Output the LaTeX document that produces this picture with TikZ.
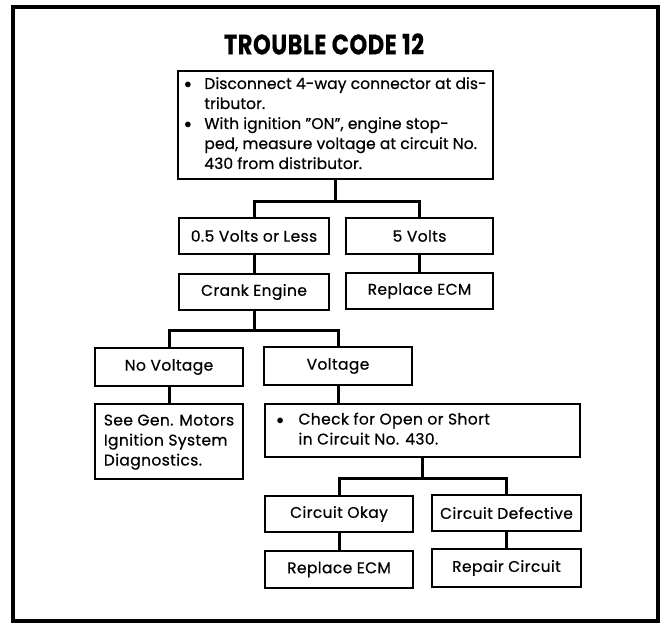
\documentclass[tikz,border=0pt]{standalone}
\usepackage{fontspec}
\setmainfont{Poppins}[LetterSpace=2.5,FakeBold=0.6]
\usepackage{graphicx}
\newcommand{\blt}{$\bullet$}
\begin{document}
\begin{tikzpicture}[x=1pt,y=-1pt,
    box/.style={draw,line width=2.2pt,inner sep=0pt,align=center,font=\fontsize{15.5}{20}\selectfont},
    link/.style={line width=3pt}]
    \useasboundingbox (0,0) rectangle (666,623);
    \draw[line width=4pt] (13,7) rectangle (658,621);
    \node (title) at (324,44) {\resizebox{200pt}{21pt}{\bfseries TROUBLE CODE 12}};
    % first test
    \node[box,minimum width=315pt,minimum height=108pt] (top) at (335.5,125)
      {\addfontfeatures{LetterSpace=0.5}%
       \begin{tabular}{@{}p{20pt}@{}l@{}}
        \blt & Disconnect 4-way connector at dis-\\
             & tributor.\\
        \blt & With ignition "ON", engine stop-\\
             & ped, measure voltage at circuit No.\\
             & 430 from distributor.
       \end{tabular}};
    \node[box,minimum width=150pt,minimum height=36pt] (v05) at (254,236) {0.5 Volts or Less};
    \node[box,minimum width=147pt,minimum height=36pt] (v5) at (419.5,236) {5 Volts};
    \node[box,minimum width=150pt,minimum height=36pt] (crank) at (254,292) {Crank Engine};
    \node[box,minimum width=147pt,minimum height=36pt] (ecm1) at (419.5,291) {Replace ECM};
    % second test
    \node[box,minimum width=148pt,minimum height=38pt] (nov) at (169,367) {No Voltage};
    \node[box,minimum width=148pt,minimum height=38pt] (volt) at (338,366) {Voltage};
    \node[box,minimum width=148pt,minimum height=75pt] (gm) at (169,441.5)
      {\begin{tabular}{@{}l@{}}
        See Gen. Motors\\
        Ignition System\\
        Diagnostics.
       \end{tabular}};
    \node[box,minimum width=315pt,minimum height=53pt] (chk) at (422.5,430.5)
      {\begin{tabular}{@{}p{22pt}@{}p{270pt}@{}}
        \blt & Check for Open or Short\\
             & in Circuit No. 430.
       \end{tabular}};
    % circuit check
    \node[box,minimum width=148pt,minimum height=36pt] (okay) at (339,514) {Circuit Okay};
    \node[box,minimum width=149pt,minimum height=36pt] (defect) at (506.5,513) {Circuit Defective};
    \node[box,minimum width=148pt,minimum height=37pt] (ecm2) at (339,569.5) {Replace ECM};
    \node[box,minimum width=149pt,minimum height=38pt] (repair) at (506.5,568) {Repair Circuit};
    % connectors
    \coordinate (j1) at (335.5,201);
    \coordinate (j2) at (254,330);
    \coordinate (j3) at (422.5,478);
    \draw[link] (top) -- (j1);
    \draw[link] (v05.north) |- (j1) -| (v5.north);
    \draw[link] (v05) -- (crank);
    \draw[link] (v5) -- (ecm1);
    \draw[link] (crank) -- (j2);
    \draw[link] (nov.north) |- (j2) -| (volt.north);
    \draw[link] (nov) -- (gm);
    \draw[link] (volt) -- (volt |- chk.north);
    \draw[link] (chk) -- (j3);
    \draw[link] (okay.north) |- (j3) -| (defect.north);
    \draw[link] (okay) -- (ecm2);
    \draw[link] (defect) -- (repair);
\end{tikzpicture}
\end{document}
